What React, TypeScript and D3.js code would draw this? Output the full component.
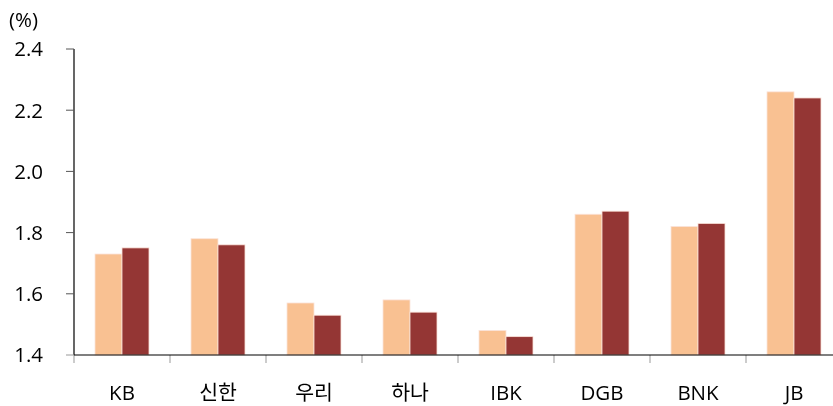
import * as d3 from 'd3';
import React, { useEffect, useRef } from 'react';

const categories = ['KB', '신한', '우리', '하나', 'IBK', 'DGB', 'BNK', 'JB'];
const seriesA = [1.73, 1.78, 1.57, 1.58, 1.48, 1.86, 1.82, 2.26];
const seriesB = [1.75, 1.76, 1.53, 1.54, 1.46, 1.87, 1.83, 2.24];
const yTicks = [1.4, 1.6, 1.8, 2.0, 2.2, 2.4];
const colors = ['#F9C192', '#943634'];

const App: React.FC = () => {
  const ref = useRef<SVGSVGElement>(null);

  useEffect(() => {
    if (!ref.current) return;
    const width = 833;
    const height = 406;
    const left = 74;
    const top = 49;
    const bottom = 355;
    const font = '"Open Sans", "Noto Sans CJK KR", sans-serif';

    const svg = d3.select(ref.current);
    svg.selectAll('*').remove();
    svg.attr('width', width).attr('height', height);

    const x = d3.scaleBand<string>()
      .domain(categories)
      .range([left, left + 96 * categories.length]);
    const y = d3.scaleLinear().domain([1.4, 2.4]).range([bottom, top]);
    const barW = 27;

    const data = categories.map((c, i) => ({ c, vals: [seriesA[i], seriesB[i]] }));

    const groups = svg.selectAll('g.cat')
      .data(data)
      .enter()
      .append('g')
      .attr('class', 'cat');

    groups.selectAll('rect')
      .data(d => d.vals.map((v, k) => ({ c: d.c, v, k })))
      .enter()
      .append('rect')
      .attr('x', d => x(d.c)! + x.bandwidth() / 2 - barW + d.k * barW)
      .attr('y', d => y(d.v))
      .attr('width', barW)
      .attr('height', d => bottom - y(d.v))
      .attr('fill', d => colors[d.k])
      .attr('stroke', '#fbe3da')
      .attr('stroke-width', 0.8);

    // y axis
    const yAxis = svg.append('g');
    yAxis.append('line')
      .attr('x1', left).attr('x2', left)
      .attr('y1', top).attr('y2', bottom)
      .attr('stroke', '#000').attr('stroke-width', 1.2);
    yAxis.selectAll('line.tick')
      .data(yTicks)
      .enter()
      .append('line')
      .attr('class', 'tick')
      .attr('x1', left - 8).attr('x2', left)
      .attr('y1', d => y(d)).attr('y2', d => y(d))
      .attr('stroke', (d, i) => (i === 0 ? '#999' : '#555'))
      .attr('stroke-width', 1);
    yAxis.selectAll('text')
      .data(yTicks)
      .enter()
      .append('text')
      .attr('x', 43)
      .attr('y', d => y(d))
      .attr('dy', '0.36em')
      .attr('text-anchor', 'end')
      .attr('font-family', font)
      .attr('font-size', 20.5)
      .attr('fill', '#000')
      .text(d => d.toFixed(1));

    svg.append('text')
      .attr('x', 9)
      .attr('y', 27)
      .attr('font-family', font)
      .attr('font-size', 20.5)
      .attr('fill', '#000')
      .text('(%)');

    // x axis
    const xAxis = svg.append('g');
    xAxis.selectAll('line.tick')
      .data(d3.range(categories.length + 1))
      .enter()
      .append('line')
      .attr('x1', i => left + i * x.step())
      .attr('x2', i => left + i * x.step())
      .attr('y1', bottom).attr('y2', bottom + 8)
      .attr('stroke', '#aaa').attr('stroke-width', 1.2);
    xAxis.append('line')
      .attr('x1', left).attr('x2', left + x.step() * categories.length)
      .attr('y1', bottom).attr('y2', bottom)
      .attr('stroke', '#000').attr('stroke-width', 1.2);
    xAxis.selectAll('text')
      .data(categories)
      .enter()
      .append('text')
      .attr('x', d => x(d)! + x.bandwidth() / 2)
      .attr('y', 400)
      .attr('text-anchor', 'middle')
      .attr('font-family', font)
      .attr('font-size', 20.5)
      .attr('fill', '#000')
      .text(d => d);
  }, []);

  return (
    <div style={{ position: 'fixed', left: 0, top: 0 }}>
      <svg ref={ref} style={{ display: 'block' }} />
    </div>
  );
};

export default App;
